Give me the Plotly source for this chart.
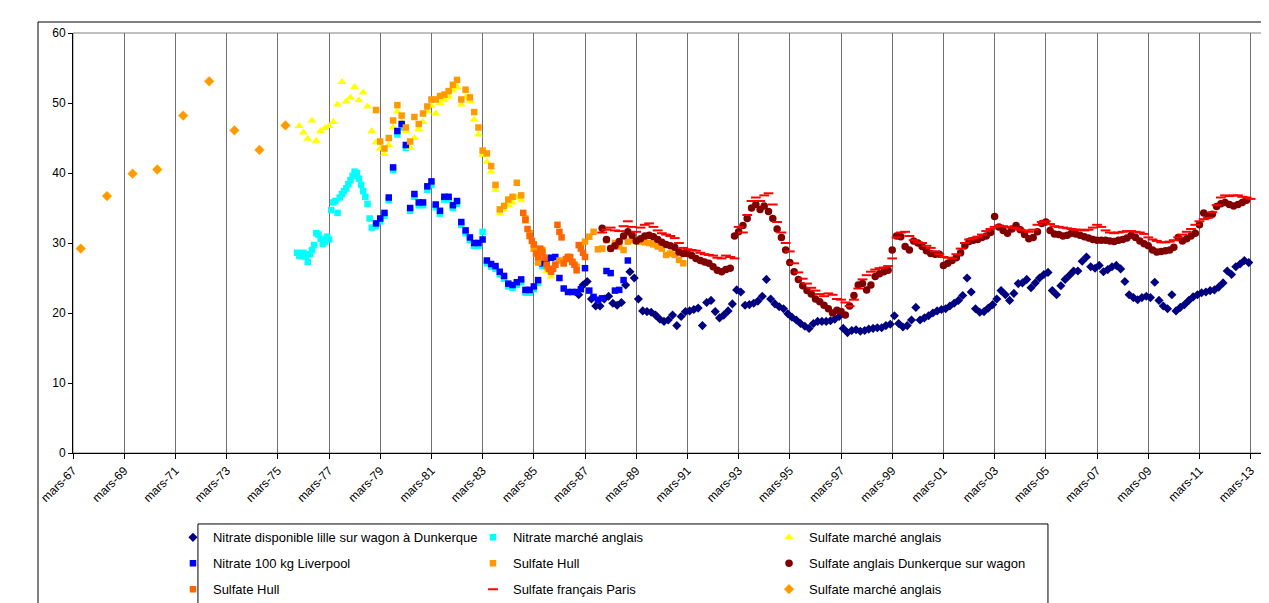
import pandas as pd
import plotly.graph_objects as go

FONT = "Arial, 'Liberation Sans', sans-serif"

# ---------------- axis labels ----------------
tick_years = list(range(1967, 2014, 2))
tick_dates = [f"{y}-03-01" for y in tick_years]
tick_labels = [f"mars-{y % 100:02d}" for y in tick_years]

# ---------------- data ----------------
# Sulfate marché anglais (annual, orange diamonds)
sma_annual_dates = ["1967-06-20", "1968-06-28", "1969-06-28", "1970-06-15", "1971-06-20",
                    "1972-06-25", "1973-06-20", "1974-06-12", "1975-06-18"]
sma_annual_vals = [29.2, 36.7, 39.9, 40.5, 48.2, 53.1, 46.1, 43.3, 46.8]

# Nitrate marché anglais (cyan squares) - monthly from Dec 1975
nma_start1 = "1975-12-01"
nma_vals1 = [28.6, 28.2, 28.1, 28.6, 28.1, 27.3, 28.4, 29.0, 29.7, 31.4,
             31.2, 30.6, 29.9, 30.2, 30.9, 30.5, 34.7, 35.8, 36.0, 34.3,
             36.5, 37.0, 37.4, 37.8, 38.4, 39.0, 39.6, 40.2, 40.0, 39.2,
             38.3, 37.4, 36.6, 35.6, 33.5, 32.2]
# continuation, every two months from Jan 1979
nma_start2 = "1979-01-01"
nma_vals2 = [32.4, 33.1, 33.9, 36.1, 40.4, 45.5, 46.5, 43.6, 34.6, 36.6,
             35.4, 35.4, 37.6, 38.3, 35.1, 34.2, 36.2, 36.2, 35.0, 35.6,
             32.6, 31.4, 30.4, 29.6, 29.6, 31.6, 27.1, 26.6, 26.3, 25.5,
             24.9, 23.8, 23.6, 24.0, 24.4, 22.9, 22.9, 23.4, 24.3, 26.7,
             27.2]

# Sulfate marché anglais (yellow triangles) - every two months from Jan 1976
smy_start = "1976-01-01"
smy_vals = [46.7, 45.8, 44.9, 47.5, 44.6, 46.0, 46.4, 46.7, 47.3, 49.8,
            53.0, 50.2, 50.8, 52.3, 50.4, 51.5, 49.5, 46.0, 44.4, 43.5,
            42.7, 44.0, 46.5, 48.8, 47.3, 46.0, 43.6, 45.0, 46.3, 47.3,
            48.8, 49.6, 48.5, 50.0, 50.4, 50.9, 51.8, 52.3, 49.8, 50.8,
            50.3, 47.6, 45.5, 42.6, 41.6, 40.2, 37.6, 34.2, 34.8, 35.4,
            35.8, 36.5, 36.1, 33.0, 30.9, 29.0, 27.2, 28.5, 26.0, 25.2]

# Nitrate 100 kg Liverpool (blue squares) - every two months from Jan 1979
liv_start = "1979-01-01"
liv_vals = [32.8, 33.5, 34.3, 36.5, 40.8, 46.0, 47.0, 44.0, 35.0, 37.0,
            35.8, 35.8, 38.1, 38.8, 35.5, 34.6, 36.6, 36.6, 35.4, 36.0,
            33.0, 31.8, 30.8, 30.0, 30.0, 30.5, 27.5, 27.0, 26.7, 25.9,
            25.3, 24.2, 24.0, 24.4, 24.8, 23.3, 23.3, 23.8, 24.7, 27.1,
            27.6, 27.9, 28.0, 25.0, 23.5, 23.0, 23.0, 23.0, 23.4, 26.4,
            23.2, 22.3, 21.9, 22.1, 26.0, 25.7, 23.2, 23.3, 24.7, 27.5]

# Sulfate Hull (orange squares) - every two months from Jan 1979
hull_start = "1979-01-01"
hull_vals = [49.0, 44.5, 43.5, 45.0, 47.5, 49.7, 48.2, 46.5, 44.5, 48.0,
             47.0, 48.5, 49.5, 50.5, 50.5, 51.0, 51.2, 51.7, 52.6, 53.3,
             50.5, 51.9, 50.8, 48.7, 46.5, 43.2, 42.8, 41.0, 38.3, 34.8,
             35.3, 36.2, 36.6, 38.6, 36.8, 33.5, 31.4, 29.2, 27.2, 29.0,
             26.6, 26.0, 26.9, 27.5, 27.1, 28.0, 27.3, 26.6, 29.7, 30.2,
             30.9, 31.6, 29.1, 29.2, 30.4, 29.2, 30.0, 29.5, 29.0, 30.2,
             30.4, 30.3, 30.2, 30.1, 30.0, 29.8, 29.5, 29.2, 28.3, 28.5,
             28.3, 27.6, 27.1]

# Sulfate Hull (orange-red squares) - monthly from Oct 1984
hull2_start = "1984-10-01"
hull2_vals = [34.3, 33.3, 32.0, 31.0, 30.3, 29.8, 28.5, 28.0, 29.2, 28.7,
              27.9, 26.9, 26.3, 25.9, 26.3, 26.9, 32.6, 31.6, 30.8, 27.1,
              27.7, 28.0, 28.0, 27.3, 26.9, 26.1, 29.7, 29.2, 28.6, 28.0]

# Nitrate disponible lille sur wagon à Dunkerque (navy diamonds) - every two months from Dec 1986
ndl_start = "1986-12-01"
ndl_vals = [22.6, 24.0, 24.5, 22.0, 21.0, 21.0, 22.0, 22.4, 21.4, 21.1,
            21.5, 24.0, 25.9, 25.0, 22.0, 20.3, 20.2, 20.1, 19.7, 19.1,
            18.8, 19.0, 19.7, 18.2, 19.5, 20.2, 20.3, 20.5, 20.7, 18.2,
            21.5, 21.8, 20.2, 19.3, 19.7, 20.3, 21.3, 23.3, 23.0, 21.1,
            21.2, 21.4, 21.7, 22.4, 24.8, 22.0, 21.3, 20.9, 20.6, 19.9,
            19.4, 19.0, 18.5, 18.1, 17.8, 18.5, 18.8, 18.8, 18.8, 18.9,
            19.1, 19.5, 17.8, 17.2, 17.5, 17.6, 17.4, 17.5, 17.7, 17.8,
            17.9, 17.9, 18.2, 18.4, 19.6, 18.5, 18.0, 18.2, 19.0, 20.8,
            19.0, 19.3, 19.6, 20.0, 20.3, 20.5, 20.6, 21.0, 21.4, 21.8,
            22.5, 25.0, 23.0, 20.6, 20.1, 20.2, 20.7, 21.2, 22.0, 23.2,
            22.6, 21.8, 22.8, 24.2, 24.3, 24.8, 23.6, 24.3, 25.0, 25.5,
            25.8, 23.2, 22.6, 23.9, 24.8, 25.4, 26.0, 26.0, 27.4, 28.0,
            26.6, 26.4, 26.8, 25.9, 26.2, 26.6, 26.8, 26.3, 24.5, 22.6,
            22.2, 21.9, 22.2, 22.4, 22.2, 24.4, 21.8, 21.0, 20.6, 22.6,
            20.3, 20.8, 21.2, 21.8, 22.3, 22.6, 22.9, 23.0, 23.2, 23.3,
            23.7, 24.3, 26.0, 25.5, 26.6, 27.0, 27.5, 27.2]

# Sulfate anglais Dunkerque sur wagon (dark red circles) - every two months from Nov 1987
sad_start = "1987-11-01"
sad_vals = [32.1, 30.5, 29.2, 29.6, 30.2, 31.0, 31.6, 31.1, 30.3, 30.6,
            31.0, 31.1, 30.9, 30.5, 30.1, 29.8, 29.6, 29.4, 28.7, 28.5,
            28.5, 28.2, 27.8, 27.5, 27.3, 27.1, 26.6, 26.1, 25.9, 26.2,
            26.4, 31.0, 31.6, 32.5, 33.5, 35.0, 35.5, 34.8, 35.3, 34.5,
            33.5, 32.0, 30.8, 29.0, 27.2, 25.9, 24.8, 23.9, 23.2, 22.7,
            22.0, 21.6, 21.1, 20.6, 20.0, 20.4, 20.2, 19.7, 21.0, 22.5,
            24.0, 24.2, 23.3, 24.0, 25.2, 25.6, 25.9, 26.1, 29.0, 31.0,
            30.9, 29.5, 29.0, 30.3, 30.0, 29.5, 28.9, 28.5, 28.4, 28.4,
            26.8, 27.1, 27.5, 27.9, 28.6, 29.6, 30.2, 30.4, 30.5, 30.8,
            31.0, 31.5, 33.8, 32.3, 31.8, 31.4, 32.0, 32.5, 31.9, 31.2,
            30.6, 30.8, 31.6, 32.8, 33.0, 31.8, 31.3, 31.2, 31.0, 31.1,
            31.4, 31.3, 31.1, 30.9, 30.7, 30.5, 30.4, 30.4, 30.4, 30.3,
            30.2, 30.4, 30.5, 30.7, 31.1, 30.8, 30.3, 29.9, 29.6, 29.0,
            28.7, 28.8, 28.9, 29.0, 29.4, 30.8, 30.3, 30.6, 31.0, 31.4,
            32.6, 34.3, 33.9, 34.1, 35.2, 35.6, 35.8, 35.5, 35.3, 35.5,
            35.8, 36.1]

# Sulfate français Paris (red dashes) - every two months from Nov 1987
sfp_start = "1987-11-01"
sfp_vals = [31.5, 31.9, 32.2, 31.8, 31.7, 32.4, 33.1, 32.3, 31.6, 32.2,
            32.6, 32.8, 32.3, 31.8, 31.4, 31.2, 31.0, 30.7, 30.0, 29.3,
            29.1, 29.0, 28.9, 28.6, 28.4, 28.3, 28.2, 27.9, 27.8, 28.2,
            28.0, 27.8, 32.3, 31.5, 34.0, 36.0, 36.5, 36.0, 36.8, 37.1,
            35.5, 33.0, 31.5, 30.0, 28.8, 27.1, 25.8, 24.9, 24.2, 23.6,
            23.2, 22.7, 22.4, 22.8, 22.6, 22.0, 21.9, 21.5, 21.0, 21.9,
            23.5, 24.8, 25.4, 25.9, 26.2, 26.4, 26.5, 26.7, 27.8, 30.8,
            31.5, 31.6, 31.0, 30.4, 30.1, 30.0, 29.6, 29.3, 28.8, 28.4,
            28.0, 27.9, 27.8, 28.4, 29.2, 30.0, 30.5, 30.7, 30.9, 31.2,
            31.7, 32.0, 32.3, 32.5, 32.4, 32.3, 32.2, 32.1, 31.9, 31.8,
            31.6, 31.9, 32.6, 33.0, 33.1, 32.7, 32.4, 32.3, 32.2, 32.1,
            32.0, 31.9, 31.9, 31.8, 31.9, 32.2, 32.6, 32.3, 31.8, 31.5,
            31.4, 31.5, 31.6, 31.7, 31.7, 31.6, 31.5, 31.3, 30.8, 30.5,
            30.3, 30.1, 30.1, 30.2, 30.4, 30.8, 31.2, 31.6, 32.0, 32.6,
            33.1, 33.4, 33.6, 34.4, 35.4, 36.5, 36.8, 36.7, 36.8, 36.8,
            36.6, 36.5, 36.3]


def dates(start, n, freq):
    return pd.date_range(start, periods=n, freq=freq)


fig = go.Figure()


def add(name, x, y, color, symbol, size, legend, group, showlegend=True, lw=0, lcolor=None):
    fig.add_trace(go.Scatter(
        x=x, y=y, mode="markers", name=name, legend=legend, legendgroup=group,
        showlegend=showlegend,
        marker=dict(color=color, symbol=symbol, size=size,
                    line=dict(color=lcolor or color, width=lw)),
    ))


NAVY, CYAN, YELLOW, BLUE = "#000080", "#00FFFF", "#FFFF00", "#0000FF"
ORANGE, DARKRED, ORANGERED, RED = "#FF9900", "#800000", "#FF6600", "#FF0000"

# draw order follows the original series order
add("Nitrate disponible lille sur wagon à Dunkerque",
    dates(ndl_start, len(ndl_vals), "2MS"), ndl_vals, NAVY, "diamond", 7, "legend", "g1")
add("Nitrate marché anglais", dates(nma_start1, len(nma_vals1), "MS"), nma_vals1,
    CYAN, "square", 6.5, "legend2", "g2")
add("Nitrate marché anglais", dates(nma_start2, len(nma_vals2), "2MS"), nma_vals2,
    CYAN, "square", 6.5, "legend2", "g2", showlegend=False)
add("Sulfate marché anglais", dates(smy_start, len(smy_vals), "2MS"), smy_vals,
    YELLOW, "triangle-up", 8, "legend3", "g3")
add("Nitrate 100 kg Liverpool", dates(liv_start, len(liv_vals), "2MS"), liv_vals,
    BLUE, "square", 6.5, "legend", "g4")
add("Sulfate Hull", dates(hull_start, len(hull_vals), "2MS"), hull_vals,
    ORANGE, "square", 6.5, "legend2", "g5")
add("Sulfate anglais Dunkerque sur wagon", dates(sad_start, len(sad_vals), "2MS"), sad_vals,
    DARKRED, "circle", 7.5, "legend3", "g6")
add("Sulfate Hull", dates(hull2_start, len(hull2_vals), "MS"), hull2_vals,
    ORANGERED, "square", 6.5, "legend", "g7")
add("Sulfate français Paris", dates(sfp_start, len(sfp_vals), "2MS"), sfp_vals,
    RED, "line-ew", 7, "legend2", "g8", lw=2, lcolor=RED)
add("Sulfate marché anglais", sma_annual_dates, sma_annual_vals,
    ORANGE, "diamond", 7.5, "legend3", "g9", lw=0.5, lcolor="#FFB000")

axis_font = dict(family=FONT, size=12, color="black")
legend_font = dict(family=FONT, size=13, color="black")
legend_common = dict(
    bgcolor="rgba(0,0,0,0)", borderwidth=0, font=legend_font, tracegroupgap=6,
    xanchor="left", yanchor="top", orientation="v", itemwidth=30,
)

# The page body adds an 8px offset, so the figure is 8px smaller and the
# margins 8px narrower to land the plot area where it belongs.
fig.update_layout(
    width=1261, height=595,
    margin=dict(l=65, r=6, t=25, b=150, pad=0, autoexpand=False),
    paper_bgcolor="white", plot_bgcolor="white",
    font=axis_font,
    xaxis=dict(
        type="date", range=["1967-03-01", "2013-08-24"],
        tickmode="array", tickvals=tick_dates, ticktext=tick_labels, tickangle=-45,
        showgrid=True, gridcolor="#707070", gridwidth=1,
        showline=True, linecolor="black", linewidth=1,
        ticks="outside", ticklen=5, tickcolor="black", tickfont=axis_font,
        zeroline=False,
    ),
    yaxis=dict(
        range=[0, 60], tickmode="array", tickvals=[0, 10, 20, 30, 40, 50, 60],
        showgrid=False, showline=True, linecolor="black", linewidth=1,
        ticks="outside", ticklen=4, tickcolor="black", tickfont=axis_font,
        zeroline=False,
    ),
    legend=dict(x=0.0840, y=-0.1652, **legend_common),
    legend2=dict(x=0.3361, y=-0.1652, **legend_common),
    legend3=dict(x=0.5849, y=-0.1652, **legend_common),
    shapes=[
        # plot-area border
        dict(type="rect", xref="paper", yref="paper", x0=0, x1=1, y0=0, y1=1,
             line=dict(color="#808080", width=1), layer="below"),
        # legend box
        dict(type="rect", xref="paper", yref="paper", x0=0.1050, x1=0.8193, y0=-0.40, y1=-0.1690,
             line=dict(color="black", width=1)),
        # chart-area frame
        dict(type="line", xref="paper", yref="paper", x0=-0.0294, x1=-0.0294, y0=1.0262, y1=-0.40,
             line=dict(color="black", width=1)),
        dict(type="line", xref="paper", yref="paper", x0=-0.0294, x1=1.02, y0=1.0262, y1=1.0262,
             line=dict(color="black", width=1)),
    ],
)

fig.write_html("out.html")
